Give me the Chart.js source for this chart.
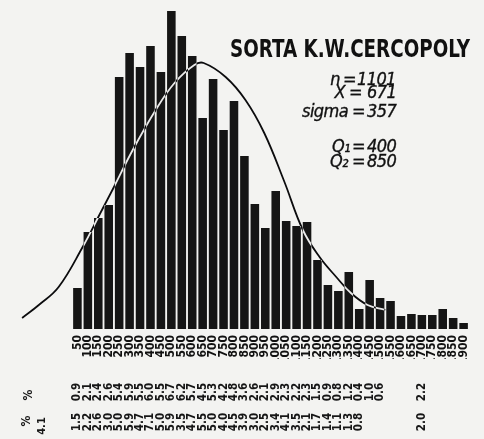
<!DOCTYPE html>
<html><head><meta charset="utf-8">
<script src="https://cdn.jsdelivr.net/npm/chart.js@4/dist/chart.umd.min.js"></script>
<style>
html,body{margin:0;padding:0;background:#f3f3f1;}
#wrap{position:relative;width:484px;height:439px;overflow:hidden;}
canvas{position:absolute;left:0;top:0;}
.t{position:absolute;white-space:nowrap;color:#111;}
#title{font-family:"DejaVu Sans Condensed","DejaVu Sans",sans-serif;font-weight:bold;font-size:24px;line-height:24px;left:230px;top:37px;transform-origin:0 0;}
.st{font-family:"DejaVu Sans ExtraLight","DejaVu Sans Condensed",sans-serif;font-weight:200;font-style:italic;font-size:18px;line-height:19px;color:#111;letter-spacing:-0.6px;-webkit-text-stroke:0.35px #111;}
.r{text-align:right;}
</style></head><body>
<div id="wrap"><canvas id="c" width="484" height="439"></canvas>
<div id="title" class="t">SORTA K.W.CERCOPOLY</div>
<div class="t st r" style="right:144px;top:69px">n</div><div class="t st" style="left:343px;top:69px">=</div><div class="t st" style="left:357px;top:69px">1101</div>
<div class="t st r" style="right:139px;top:82px">X</div><div class="t st" style="left:349px;top:82px">=</div><div class="t st" style="left:367px;top:82px">671</div>
<div class="t st r" style="right:136px;top:101px">sigma</div><div class="t st" style="left:352px;top:101px">=</div><div class="t st" style="left:367px;top:101px">357</div>
<div class="t st r" style="right:134px;top:136px">Q₁</div><div class="t st" style="left:352px;top:136px">=</div><div class="t st" style="left:367px;top:136px">400</div>
<div class="t st r" style="right:136px;top:151px">Q₂</div><div class="t st" style="left:352px;top:151px">=</div><div class="t st" style="left:367px;top:151px">850</div>
</div>
<script>
// ---- data ----
const binLabels = ['50','100','150','200','250','300','350','400','450','500','550','600','650','700','750','800','850','900','950','1000','1050','1100','1150','1200','1250','1300','1350','1400','1450','1500','1550','1600','1650','1700','1750','1800','1850','1900'];
const binCounts = [41,97,111,124,252,276,262,283,257,318,293,273,211,250,199,228,173,125,101,138,108,103,107,69,44,38,57,20,49,31,28,13,15,14,14,20,11,6];
const curveX = [-215,-135,-40,75,160,225,315,425,515,610,655,760,855,945,1040,1130,1210,1290,1360,1440,1525];
const curveY = [11,24,42,82,116,142,179,219,246,264,266,252,229,196,148,99,72,52,36,24,19];
const pctRowA = ['0.9','2.1','2.4','2.6','5.4','5.9','5.5','6.0','5.5','6.7','6.2','5.7','4.5','5.3','4.2','4.8','3.6','2.6','2.1','2.9','2.3','2.2','2.3','1.5','0.9','0.8','1.2','0.4','1.0','0.6'];
const pctRowATail = '2.2';
const pctRowB = ['1.5','2.2','2.6','3.0','5.0','5.9','4.7','7.1','5.0','5.9','3.5','4.7','5.5','5.0','4.0','4.5','3.9','3.0','2.5','3.4','4.1','3.5','2.1','1.7','1.4','1.1','1.3','0.8'];
const pctRowBTail = '2.0';
const pctTailBin = 1700;
const rowBLead = '4.1';

const binValues = binLabels.map(Number);

const bgPlugin = {
  id:'bg',
  beforeDraw(chart){ const c=chart.ctx; c.save(); c.fillStyle='#f3f3f1'; c.fillRect(0,0,chart.width,chart.height); c.restore(); }
};
const diffLine = {
  id:'diffLine',
  beforeDatasetDraw(chart,args){ if(chart.data.datasets[args.index].type==='line'){ chart.ctx.save(); chart.ctx.globalCompositeOperation='difference'; } },
  afterDatasetDraw(chart,args){ if(chart.data.datasets[args.index].type==='line'){ chart.ctx.restore(); } }
};
function vtext(ctx,txt,x,y){ ctx.save(); ctx.translate(x,y); ctx.rotate(-Math.PI/2); ctx.fillText(txt,0,0); ctx.restore(); }
const pctPlugin = {
  id:'pct',
  afterDraw(chart){
    const c=chart.ctx, xs=chart.scales.x;
    c.save();
    c.fillStyle='#161616';
    c.font='bold 11.5px "DejaVu Sans Condensed","DejaVu Sans",sans-serif';
    c.textAlign='center'; c.textBaseline='middle';
    pctRowA.forEach((t,i)=>vtext(c,t,xs.getPixelForValue(binValues[i]),392));
    vtext(c,pctRowATail,xs.getPixelForValue(pctTailBin),392);
    pctRowB.forEach((t,i)=>vtext(c,t,xs.getPixelForValue(binValues[i]),422));
    vtext(c,pctRowBTail,xs.getPixelForValue(pctTailBin),422);
    c.font='bold 12px "DejaVu Sans Condensed","DejaVu Sans",sans-serif';
    vtext(c,'%',29,395);
    vtext(c,'%',27,421);
    c.font='bold 11px "DejaVu Sans Condensed","DejaVu Sans",sans-serif';
    vtext(c,rowBLead,42,426);
    c.restore();
  }
};

new Chart(document.getElementById('c'),{
  data:{
    datasets:[
      {type:'line', order:0, data:curveX.map((x,i)=>({x:x,y:curveY[i]})), borderColor:'#ffffff', borderWidth:1.8, pointRadius:0, fill:false, tension:0.4},
      {type:'bar', order:1, data:binValues.map((x,i)=>({x:x,y:binCounts[i]})), backgroundColor:'#151515', borderWidth:0, barPercentage:0.82, categoryPercentage:1.0}
    ]
  },
  options:{
    responsive:false, animation:false, devicePixelRatio:1,
    layout:{padding:{left:15,right:0,top:0,bottom:80}},
    plugins:{legend:{display:false}, tooltip:{enabled:false}, title:{display:false}},
    scales:{
      x:{type:'linear', min:-249, max:1923, offset:false,
         grid:{display:false, drawTicks:false}, border:{display:false},
         afterBuildTicks:(axis)=>{ axis.ticks = binValues.map(v=>({value:v})); },
         afterFit:(s)=>{ s.height = 30; },
         ticks:{autoSkip:false, minRotation:90, maxRotation:90, padding:6, color:'#111',
           font:{family:'"DejaVu Sans Condensed","DejaVu Sans",sans-serif', weight:'bold', size:12},
           callback:(v,i)=>binLabels[i]}
      },
      y:{display:false, min:0, max:329}
    }
  },
  plugins:[bgPlugin, diffLine, pctPlugin]
});
// fit title width to reference
const tt=document.getElementById('title');
const w=tt.getBoundingClientRect().width;
tt.style.transform='scaleX('+(240/w)+')';
</script>
</body></html>
